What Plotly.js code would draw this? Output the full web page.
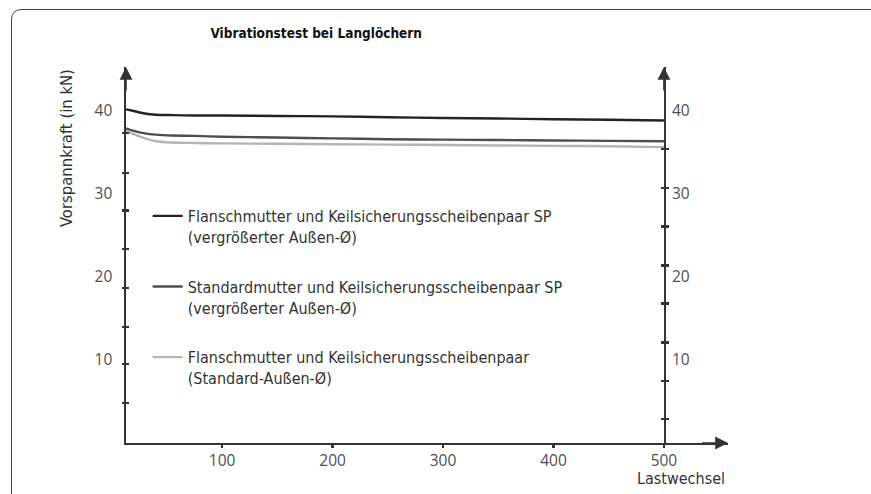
<!DOCTYPE html>
<html><head><meta charset="utf-8">
<script src="https://cdn.plot.ly/plotly-3.0.1.min.js"></script>
<style>
html,body{margin:0;padding:0;width:871px;height:494px;overflow:hidden;background:#fff;}
#frame{position:absolute;left:11px;top:9px;width:880px;height:520px;border:1.3px solid #444;border-radius:10px;box-sizing:border-box;}
#chart{position:absolute;left:0;top:0;width:871px;height:494px;}
</style></head>
<body>
<div id="chart"></div>
<div id="frame"></div>
<script>
// Data
const cycles = [13, 20, 30, 40, 55, 75, 100, 150, 200, 250, 300, 350, 400, 450, 500];
const flanschSP = [40.2, 40.0, 39.7, 39.55, 39.5, 39.45, 39.45, 39.4, 39.35, 39.25, 39.15, 39.1, 39.0, 38.95, 38.85];
const standardSP = [37.9, 37.6, 37.3, 37.15, 37.05, 37.0, 36.9, 36.8, 36.7, 36.6, 36.55, 36.5, 36.45, 36.4, 36.35];
const flanschStd = [37.6, 37.2, 36.7, 36.35, 36.2, 36.15, 36.1, 36.05, 36.0, 35.95, 35.9, 35.85, 35.8, 35.75, 35.65];
const seriesNames = [
  "Flanschmutter und Keilsicherungsscheibenpaar SP<br>(vergrößerter Außen-Ø)",
  "Standardmutter und Keilsicherungsscheibenpaar SP<br>(vergrößerter Außen-Ø)",
  "Flanschmutter und Keilsicherungsscheibenpaar<br>(Standard-Außen-Ø)"
];
const xTickVals = [100, 200, 300, 400, 500];
const yLabelVals = [10, 20, 30, 40];
const leftMinorTicks = [4.8, 9.5, 14.0, 18.7, 23.4, 28.0, 32.5, 37.35];
const rightMinorTicks = [2.9, 7.5, 12.1, 16.8, 21.4, 26.1, 30.7, 35.4];
const xRange = [13, 558];
const yRange = [0, 45.3];
const rightAxisAt = 500;

const colors = ["#232323", "#4e4e4e", "#b4b4b4"];
const seriesVals = [flanschSP, standardSP, flanschStd];

const traces = seriesVals.map((v, i) => ({
  x: cycles, y: v, type: "scatter", mode: "lines", name: seriesNames[i],
  legendgroup: "g" + i,
  line: {color: colors[i], width: 2.4, shape: "spline", smoothing: 0.6},
  hoverinfo: "skip"
}));
// invisible carriers so that the overlay axes get drawn
["y2", "y3", "y4", "y5", "y6"].forEach(ax => traces.push({
  x: cycles, y: flanschSP, yaxis: ax, type: "scatter", mode: "lines",
  line: {width: 0, color: "rgba(0,0,0,0)"}, opacity: 0, showlegend: false, hoverinfo: "skip"
}));

const narrow = "'DejaVu Sans Condensed', 'DejaVu Sans', sans-serif";
const tickFont = {family: "'Open Sans', sans-serif", size: 15.5, color: "#505050"};
const lineCol = "#333";
const rightPos = (rightAxisAt - xRange[0]) / (xRange[1] - xRange[0]);

function ovl(extra) {
  return Object.assign({overlaying: "y", range: yRange, showgrid: false, zeroline: false,
    fixedrange: true}, extra);
}

const layout = {
  width: 871, height: 494,
  margin: {l: 126, r: 143, t: 67, b: 51},
  paper_bgcolor: "rgba(0,0,0,0)", plot_bgcolor: "rgba(0,0,0,0)",
  showlegend: true,
  title: {text: "<b>Vibrationstest bei Langlöchern</b>", font: {family: narrow, size: 13.5, color: "#111"},
    xref: "paper", x: 0.316, xanchor: "center", yref: "container", y: 1 - 33/494, yanchor: "middle"},
  legend: {x: 0.036, xanchor: "left", y: (443-199)/376, yanchor: "top", yref: "paper",
    font: {family: narrow, size: 16, color: "#333"}, valign: "top", tracegroupgap: 26,
    bgcolor: "rgba(0,0,0,0)", itemclick: false},
  xaxis: {range: xRange, showline: true, linecolor: lineCol, linewidth: 1.6, showgrid: false,
    zeroline: false, tickvals: xTickVals, ticks: "outside", ticklen: 3, tickwidth: 2.5,
    tickcolor: lineCol, tickfont: tickFont, fixedrange: true},
  yaxis: {range: yRange, showline: true, linecolor: lineCol, linewidth: 1.6, showgrid: false,
    zeroline: false, tickvals: yLabelVals, ticks: "", tickfont: tickFont, ticklabelstandoff: 9, fixedrange: true},
  yaxis2: ovl({anchor: "x", tickvals: leftMinorTicks, ticks: "outside", ticklen: 3, tickwidth: 2.5,
    tickcolor: lineCol, showticklabels: false}),
  yaxis3: ovl({anchor: "x", tickvals: leftMinorTicks, ticks: "inside", ticklen: 3, tickwidth: 2.5,
    tickcolor: lineCol, showticklabels: false}),
  yaxis4: ovl({anchor: "free", position: rightPos, side: "right", showline: true, linecolor: lineCol,
    linewidth: 1.6, tickvals: rightMinorTicks, ticks: "outside", ticklen: 3, tickwidth: 2.5,
    tickcolor: lineCol, showticklabels: false}),
  yaxis5: ovl({anchor: "free", position: rightPos, side: "right", tickvals: rightMinorTicks,
    ticks: "inside", ticklen: 3, tickwidth: 2.5, tickcolor: lineCol, showticklabels: false}),
  yaxis6: ovl({anchor: "free", position: rightPos, side: "right", tickvals: yLabelVals, ticks: "",
    tickfont: tickFont, ticklabelstandoff: 7}),
  annotations: [
    {x: xRange[0], y: yRange[1], ax: xRange[0], ay: yRange[1] - 3, xref: "x", yref: "y", axref: "x", ayref: "y",
      text: "", showarrow: true, arrowhead: 2, arrowsize: 1.6, arrowwidth: 1.6, arrowcolor: lineCol},
    {x: rightAxisAt, y: yRange[1], ax: rightAxisAt, ay: yRange[1] - 3, xref: "x", yref: "y", axref: "x", ayref: "y",
      text: "", showarrow: true, arrowhead: 2, arrowsize: 1.6, arrowwidth: 1.6, arrowcolor: lineCol},
    {x: xRange[1], y: 0, ax: xRange[1] - 25, ay: 0, xref: "x", yref: "y", axref: "x", ayref: "y",
      text: "", showarrow: true, arrowhead: 2, arrowsize: 1.6, arrowwidth: 1.6, arrowcolor: lineCol},
    {text: "Vorspannkraft (in kN)", textangle: -90, xref: "paper", yref: "paper",
      x: (66-126)/602, xanchor: "center", y: 1, yanchor: "top", showarrow: false,
      font: {family: narrow, size: 16.5, color: "#333"}},
    {text: "Lastwechsel", xref: "x", yref: "paper", x: xRange[1] - 1, xanchor: "right",
      y: (443-478)/376, yanchor: "middle", showarrow: false,
      font: {family: narrow, size: 16, color: "#333"}}
  ]
};

Plotly.newPlot("chart", traces, layout, {staticPlot: true, displayModeBar: false});
</script>
</body></html>
